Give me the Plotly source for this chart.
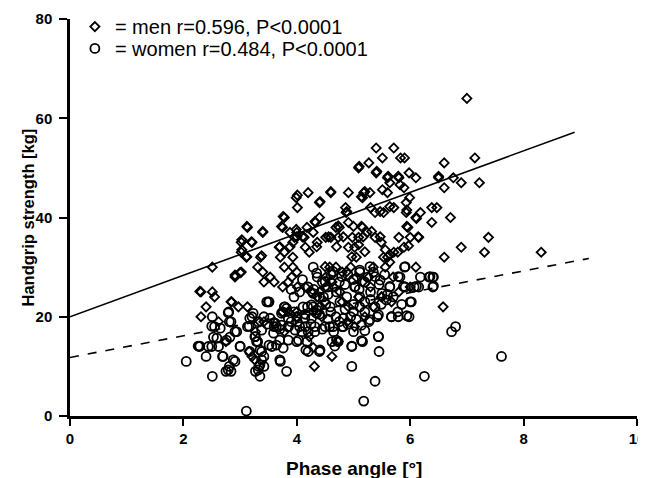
import plotly.graph_objects as go

# Men (diamonds): phase angle [°], handgrip strength [kg]
men_x = [7.0, 7.14, 7.22, 6.9, 6.76, 6.6, 6.5, 6.6, 6.47, 6.38, 6.38, 6.71, 7.38, 7.31, 6.9, 6.6, 6.58, 8.31, 6.18, 6.1,
         5.98, 6.1, 5.83, 5.9, 5.71, 5.4, 5.51, 5.27, 5.09, 5.4, 5.6, 5.8, 5.89, 5.64, 5.29, 5.18, 5.6, 5.51, 5.93, 5.99,
         5.16, 5.3, 5.38, 5.53, 5.71, 5.93, 5.96, 6.0, 6.15, 5.8, 5.89, 5.71, 5.53, 5.78, 6.1, 5.49, 5.38, 5.24, 5.16, 5.09,
         4.98, 4.91, 5.02, 5.05, 4.91, 4.87, 4.91, 4.86, 4.75, 4.73, 4.69, 4.6, 4.6, 4.4, 4.4, 4.33, 4.2, 4.18, 4.29, 4.13,
         3.99, 4.01, 4.01, 3.78, 3.75, 3.88, 3.96, 4.0, 3.93, 3.69, 3.78, 3.71, 3.78, 3.93, 4.0, 3.91, 3.93, 4.15, 4.22, 4.36,
         4.51, 3.4, 3.36, 3.31, 3.4, 3.42, 3.13, 3.21, 3.02, 3.02, 3.11, 3.02, 2.91, 2.84, 2.97, 3.13, 2.51, 2.31, 2.51, 2.55,
         2.4, 2.31, 2.62, 2.75, 3.21, 3.16, 4.31, 4.62, 4.73,
         3.53, 3.6, 3.75, 3.85, 4.01, 4.15, 4.25, 4.4, 4.51, 4.58, 4.69, 4.8, 4.95, 5.05, 5.16, 5.27, 5.35, 5.56, 5.64, 5.6,
         4.62, 4.51, 4.65, 4.76, 4.36, 4.4, 4.29, 4.0, 3.85, 3.75, 4.0, 4.44, 4.89, 5.02, 5.2, 5.35, 5.67, 5.49, 5.09, 4.91,
         4.22, 3.78, 3.6, 3.27, 3.35, 3.42,
         4.41, 5.14, 5.47, 5.64, 5.94, 6.11, 5.94, 6.14, 5.97, 4.88, 4.32, 4.73, 5.0, 5.14, 5.32, 5.47, 5.17, 4.82, 4.56, 4.35,
         4.7, 5.09, 5.2, 5.56, 5.64, 4.97, 5.1, 5.41, 5.61, 5.79, 6.5, 5.82, 5.2, 4.6,
         3.76, 3.73, 3.99, 3.4, 3.12, 3.03, 3.2, 3.03, 3.12, 3.38, 3.7, 3.88, 4.0, 4.1,
         5.5, 5.8, 5.3, 4.8, 4.5, 5.7, 6.0, 4.29, 4.5, 4.88, 2.91, 3.0, 2.29, 2.85, 3.26]
men_y = [64, 52, 47, 47, 48, 51, 48, 46, 42, 42, 39, 40, 36, 33, 34, 32, 22, 33, 41, 40,
         49, 48, 52, 52, 54, 54, 52, 51, 50, 49, 48, 48, 46, 47, 45, 45, 45, 45.6, 43, 44,
         44, 42, 41, 41, 42, 41, 38, 36, 36, 36, 34, 33, 32, 33, 30, 35, 36, 37, 38, 36,
         36, 34, 34, 32, 39, 41, 45, 42, 38, 36, 38, 36, 45, 43, 40, 39, 45, 38, 37, 36,
         44, 44.5, 42, 40, 38, 37, 36, 37, 35, 34, 33, 32, 30, 30, 29, 28, 32, 34, 33, 35,
         36, 37, 32, 30, 29, 27, 38, 35, 35, 33, 32, 29, 28, 23, 22, 22, 30, 25, 25, 24,
         22, 20, 19, 15, 12, 13, 10, 12, 15,
         28, 27, 26, 27, 26, 26, 25, 25, 28, 30, 30, 29, 30, 28, 27, 28, 30, 30, 31, 32,
         27, 26, 26, 25, 24, 22, 21, 21, 21, 21, 20, 20, 19, 18, 20, 22, 23, 24, 24, 22,
         16, 17, 19, 17, 19, 19,
         43.2, 44.2, 41.2, 42.2, 41.5, 39.8, 38.2, 36.1, 34.3, 41.2, 39.2, 38.3, 38.2, 38.2, 37.2, 36.1, 36.1, 36.1, 36.1, 34.1,
         34.1, 34.5, 33.1, 33.5, 32.5, 32.1, 50.3, 49.3, 48.3, 48.3, 48.3, 46.6, 45.2, 45.2,
         40.2, 38.2, 37.6, 37.2, 38.2, 35.5, 35.1, 33.5, 32.1, 32.3, 34.1, 34.1, 36.1, 36.1,
         24, 25, 26, 23, 23, 28, 26, 13.8, 30.1, 29.1, 28.4, 28.9, 25.1, 23, 11.3]

# Women (circles)
women_x = [3.11, 5.18, 5.38, 6.25, 7.61, 6.73, 6.8, 2.05, 2.28, 2.4, 2.51, 2.51, 2.55, 2.62, 2.69, 2.75, 2.84, 2.81, 2.91, 2.8,
           2.84, 2.91, 3.0, 3.13, 3.21, 3.27, 3.31, 3.27, 3.35, 3.33, 3.42, 3.42, 3.38, 3.48, 3.51, 3.42, 3.56, 3.71, 3.82, 3.78,
           3.75, 3.64, 3.85, 4.0, 4.01, 4.15, 4.2, 4.18, 4.4, 4.29, 4.36, 4.29, 4.51, 4.58, 4.62, 4.73, 4.8, 4.69, 4.95, 4.97,
           4.97, 5.02, 5.11, 5.2, 5.16, 5.27, 5.35, 5.44, 5.45, 5.42, 5.49, 5.6, 5.64, 5.67, 5.78, 5.82, 5.9, 5.91, 5.98, 6.02,
           6.07, 6.15, 6.18, 6.33, 6.4, 6.4,
           2.26, 2.5, 2.7, 2.79, 2.88, 2.82, 2.53, 2.5, 2.79, 2.81, 3.0, 3.16, 3.26, 3.17, 3.35, 3.35, 3.32, 3.38, 3.5, 3.51,
           3.64, 3.7, 3.62, 3.85, 3.79, 4.03, 4.16, 4.19,
           5.44, 4.97, 5.14, 5.2, 4.7, 4.67, 4.41, 6.0, 5.91, 6.35, 6.41, 5.88, 6.11, 6.41, 5.79, 5.38, 5.44, 5.67, 5.79, 5.94,
           5.29, 5.14, 5.0, 4.82, 4.64, 4.5, 4.32, 4.82, 5.0, 5.03, 5.38, 4.5, 4.47, 4.59, 4.76, 4.88, 5.11, 5.11, 5.29, 5.11,
           4.79, 4.64, 4.35, 4.29, 4.35, 5.5, 5.58, 5.64, 5.47,
           3.82, 3.73, 3.38, 3.32, 3.17, 3.23, 3.53, 3.59, 3.97, 4.09, 4.2, 4.32, 4.0, 4.14, 4.26, 4.11, 4.26, 4.35, 3.85, 3.85,
           3.73, 3.47, 3.7, 3.76, 3.29, 2.94, 2.65, 2.76, 2.59, 2.44, 2.29,
           4.45, 4.55, 4.6, 4.75, 4.85, 4.2, 4.05, 3.95, 3.9, 4.1, 4.3, 4.4, 4.7, 5.0, 5.2, 5.3, 5.45, 5.55, 5.25, 4.9,
           4.55, 5.7, 5.85, 5.1,
           3.6, 3.7, 3.9, 4.05, 4.25, 4.45, 4.55, 4.65, 4.75, 4.9, 5.05, 5.2, 3.95, 4.15, 4.4, 4.6, 4.85, 5.0, 5.3]
women_y = [1, 3, 7, 8, 12, 17, 18, 11, 14, 12, 8, 20, 18, 14, 12, 9, 9, 10, 11, 21,
           19, 17, 14, 18, 20, 16, 15, 9, 8, 10, 10, 12, 13, 18.5, 23, 20, 14, 11, 9, 22,
           21, 18, 18, 15, 19, 18, 13, 15, 13, 30, 28, 22, 22.5, 18, 15, 15, 18, 20, 20, 14,
           10, 26, 29, 23, 15, 19, 29, 16, 13, 20, 22.5, 24.5, 26, 20, 21, 28, 30, 26, 20, 23,
           26, 26, 28, 28, 28, 26,
           14.1, 14, 12, 9.3, 11.3, 15.9, 15.9, 18.1, 20.8, 19, 14.1, 18.1, 16, 13, 13.3, 10.3, 9.3, 11.3, 23, 14.3,
           14.3, 11.3, 18.7, 15.3, 22, 15.3, 13.3, 22,
           16, 14.1, 15.2, 17.2, 15.3, 14.1, 13.3, 23, 30.1, 28.1, 28, 26.1, 26.1, 26.2, 28.1, 22, 20.4, 20, 20, 20.2,
           19.4, 18.3, 17, 19.7, 18, 18, 18, 18, 21, 26.1, 28.1, 27.1, 24, 22, 23, 24, 24, 22, 30.1, 29.4,
           28.1, 29.1, 28.8, 24.7, 20.7, 24.7, 23.4, 26.1, 27.4,
           21.7, 18.3, 17.3, 19, 19.7, 20.7, 19.7, 16.7, 17.3, 17, 17, 17, 20, 19.7, 19.7, 22, 22.4, 21.4, 19.7, 18,
           20.7, 23, 15.3, 13.7, 15, 17, 17.7, 15.3, 15.7, 14, 14.1,
           27, 26, 28.5, 27, 26.5, 26, 25, 24, 25.5, 27.5, 25.5, 24, 25, 27.5, 27, 25, 26.5, 28.5, 28, 28.5,
           24.5, 24, 22.5, 25.5,
           18, 17.5, 19, 18, 18.5, 17.5, 19.5, 17, 19, 18.5, 19.5, 21, 21, 20.5, 20.5, 21, 21.5, 22.5, 23.5]

# Regression lines: intercept, slope, x extent
men_fit = {"intercept": 20.0, "slope": 4.18, "x_end": 8.9}
women_fit = {"intercept": 11.8, "slope": 2.18, "x_end": 9.15}

legend_men = "= men r=0.596, P<0.0001"
legend_women = "= women r=0.484, P<0.0001"
x_title = "Phase angle [°]"
y_title = "Handgrip strength [kg]"
x_ticks = [0, 2, 4, 6, 8, 10]
y_ticks = [0, 20, 40, 60, 80]

FONT = "Liberation Sans, Arial, sans-serif"

fig = go.Figure()

fig.add_trace(go.Scatter(x=men_x, y=men_y, mode="markers", name=legend_men, legend="legend",
                         marker=dict(symbol="diamond-open", size=7, color="black", line=dict(width=1.8, color="black")),
                         cliponaxis=False))
fig.add_trace(go.Scatter(x=women_x, y=women_y, mode="markers", name=legend_women, legend="legend2",
                         marker=dict(symbol="circle-open", size=9, color="black", line=dict(width=1.8, color="black")),
                         cliponaxis=False))

for fit, dash in ((men_fit, "solid"), (women_fit, "dash")):
    xs = [0, fit["x_end"]]
    ys = [fit["intercept"] + fit["slope"] * v for v in xs]
    fig.add_trace(go.Scatter(x=xs, y=ys, mode="lines", showlegend=False,
                             line=dict(color="black", width=1.6, dash=dash)))

axis_common = dict(showgrid=False, zeroline=False, showline=True, linecolor="black", linewidth=2.5,
                   ticks="outside", tickwidth=2, tickcolor="black", automargin=False,
                   tickfont=dict(family=FONT, size=15, color="black", weight="bold"))

legend_common = dict(xanchor="left", yanchor="top", bgcolor="rgba(0,0,0,0)",
                     font=dict(family=FONT, size=20, color="black"), itemsizing="trace")

fig.update_layout(
    width=638, height=470,
    margin=dict(l=62, r=9, t=11, b=62, autoexpand=False),
    paper_bgcolor="white", plot_bgcolor="white",
    showlegend=True,
    legend=dict(x=0.0086, y=1.03, **legend_common),
    legend2=dict(x=0.0086, y=0.975, **legend_common),
    xaxis=dict(range=[0, 10], tickvals=x_ticks, ticklen=7, **axis_common),
    yaxis=dict(range=[0, 80], tickvals=y_ticks, ticklen=8, ticklabelstandoff=4, **axis_common),
    annotations=[
        dict(text=x_title, xref="paper", yref="paper", x=0.5, y=-0.131, xanchor="center", yanchor="middle",
             showarrow=False, font=dict(family=FONT, size=19, color="black", weight="bold")),
        dict(text=y_title, xref="paper", yref="paper", x=-0.0741, y=0.5, xanchor="center", yanchor="middle",
             textangle=-90, showarrow=False, font=dict(family=FONT, size=16.5, color="black", weight="bold")),
    ],
)

fig.write_html("out.html")
